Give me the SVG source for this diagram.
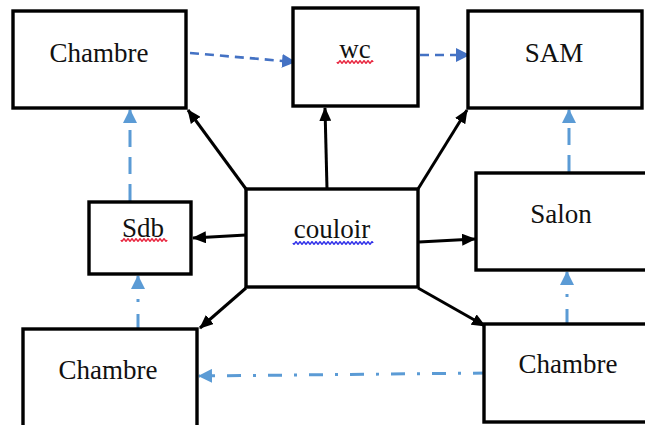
<svg xmlns="http://www.w3.org/2000/svg" width="645" height="425" viewBox="0 0 645 425">
<style>
.box{fill:#fff;stroke:#000;stroke-width:3.4}
.lbl{font-family:"Liberation Serif","Times New Roman",serif;font-size:27px;fill:#111;text-anchor:middle}
.solid{stroke:#000;stroke-width:3;fill:none}
.d1{stroke:#4472C4;stroke-width:2.6;fill:none;stroke-dasharray:9 6}
.d2{stroke:#5B9BD5;stroke-width:3;fill:none;stroke-dasharray:17 10}
.d3{stroke:#5B9BD5;stroke-width:3;fill:none;stroke-dasharray:14 12 3 12}
.wr{stroke:#E8203A;stroke-width:1.5;fill:none}
.wb{stroke:#2A2AE8;stroke-width:1.5;fill:none}
</style>
<defs>
<marker id="ab" markerUnits="userSpaceOnUse" markerWidth="14" markerHeight="12" refX="13" refY="6" orient="auto"><path d="M0 0 L14 6 L0 12 Z" fill="#000"/></marker>
<marker id="ad" markerUnits="userSpaceOnUse" markerWidth="14" markerHeight="14" refX="13" refY="7" orient="auto"><path d="M0 0 L14 7 L0 14 Z" fill="#4472C4"/></marker>
<marker id="al" markerUnits="userSpaceOnUse" markerWidth="14" markerHeight="14" refX="13" refY="7" orient="auto"><path d="M0 0 L14 7 L0 14 Z" fill="#5B9BD5"/></marker>
</defs>
<g id="connectors">
<line class="solid" x1="246" y1="189" x2="188" y2="110" marker-end="url(#ab)"/>
<line class="solid" x1="327" y1="189" x2="325" y2="108" marker-end="url(#ab)"/>
<line class="solid" x1="418" y1="189" x2="467" y2="110" marker-end="url(#ab)"/>
<line class="solid" x1="246" y1="235" x2="193" y2="238" marker-end="url(#ab)"/>
<line class="solid" x1="419" y1="242" x2="475" y2="239" marker-end="url(#ab)"/>
<line class="solid" x1="246" y1="288" x2="200" y2="328" marker-end="url(#ab)"/>
<line class="solid" x1="418" y1="288" x2="485" y2="326" marker-end="url(#ab)"/>
<line class="d1" x1="190" y1="53" x2="295" y2="62" marker-end="url(#ad)"/>
<line class="d1" x1="420" y1="55" x2="469" y2="55" marker-end="url(#ad)"/>
<line class="d2" x1="130" y1="201" x2="130" y2="110" marker-end="url(#al)"/>
<line class="d2" x1="569" y1="172" x2="569" y2="110" marker-end="url(#al)"/>
<line class="d3" x1="138" y1="328" x2="138" y2="276" marker-end="url(#al)"/>
<line class="d3" x1="567" y1="323" x2="567" y2="272" marker-end="url(#al)"/>
<line class="d3" x1="487" y1="373" x2="199" y2="376" marker-end="url(#al)"/>
</g>
<g id="chambre-tl"><rect class="box" x="13" y="11" width="173" height="97"/><text class="lbl" x="99" y="62">Chambre</text></g>
<g id="wc"><rect class="box" x="293" y="8" width="125" height="98"/><text class="lbl" x="355" y="58">wc</text><path class="wr" d="M337 62 q1 2.5 2 0 t2 0 t2 0 t2 0 t2 0 t2 0 t2 0 t2 0 t2 0 t2 0 t2 0 t2 0 t2 0 t2 0 t2 0 t2 0 t2 0 t2 0"/></g>
<g id="sam"><rect class="box" x="468" y="11" width="174" height="97"/><text class="lbl" x="554" y="62">SAM</text></g>
<g id="salon"><rect class="box" x="476" y="173" width="180" height="97"/><text class="lbl" x="561" y="223">Salon</text></g>
<g id="couloir"><rect class="box" x="246" y="189" width="172" height="98"/><text class="lbl" x="332" y="238">couloir</text><path class="wb" d="M293 243 q1 2.5 2 0 t2 0 t2 0 t2 0 t2 0 t2 0 t2 0 t2 0 t2 0 t2 0 t2 0 t2 0 t2 0 t2 0 t2 0 t2 0 t2 0 t2 0 t2 0 t2 0 t2 0 t2 0 t2 0 t2 0 t2 0 t2 0 t2 0 t2 0 t2 0 t2 0 t2 0 t2 0 t2 0 t2 0 t2 0 t2 0 t2 0 t2 0 t2 0 t2 0"/></g>
<g id="sdb"><rect class="box" x="89" y="202" width="102" height="72"/><text class="lbl" x="143" y="237">Sdb</text><path class="wr" d="M121 240 q1 2.5 2 0 t2 0 t2 0 t2 0 t2 0 t2 0 t2 0 t2 0 t2 0 t2 0 t2 0 t2 0 t2 0 t2 0 t2 0 t2 0 t2 0 t2 0 t2 0 t2 0 t2 0 t2 0 t2 0"/></g>
<g id="chambre-bl"><rect class="box" x="23" y="329" width="174" height="110"/><text class="lbl" x="108" y="379">Chambre</text></g>
<g id="chambre-br"><rect class="box" x="484" y="324" width="175" height="98"/><text class="lbl" x="568" y="373">Chambre</text></g>
</svg>
